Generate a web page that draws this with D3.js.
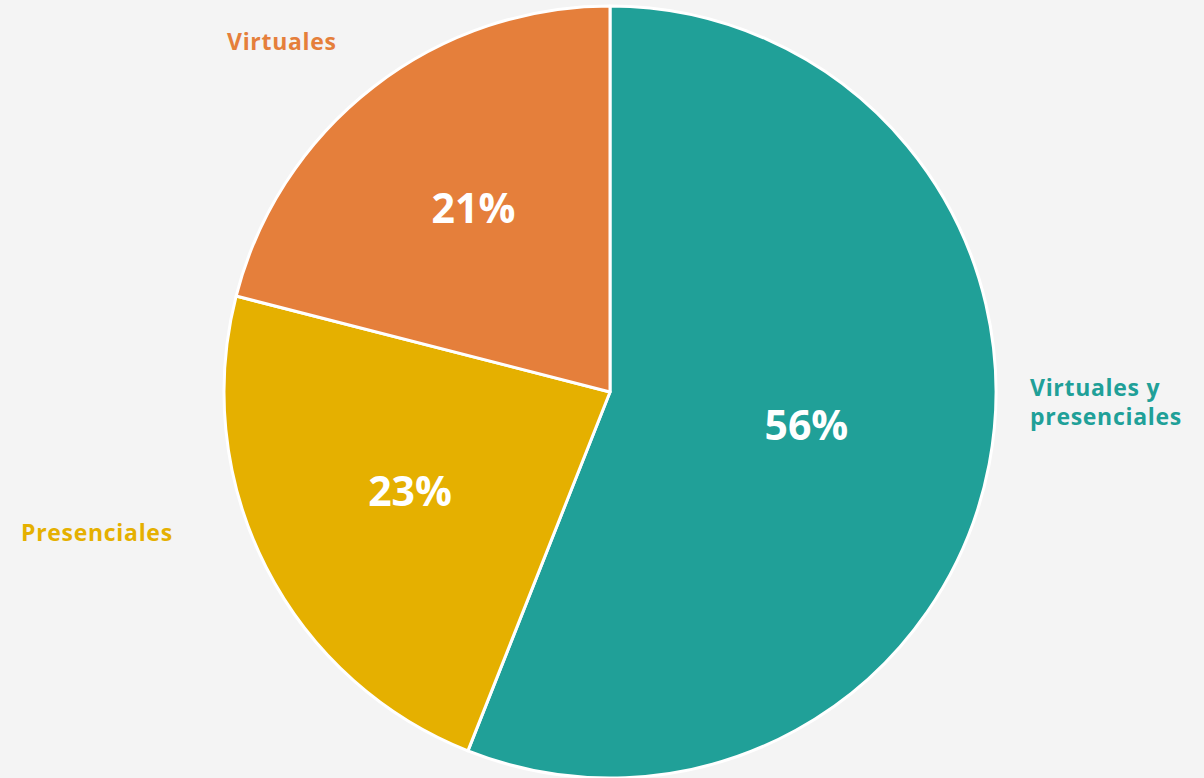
<!DOCTYPE html>
<html>
<head>
<meta charset="utf-8">
<script src="https://cdn.jsdelivr.net/npm/d3@7"></script>
<style>
  html, body { margin: 0; padding: 0; background: #f4f4f4; }
  svg { display: block; }
</style>
</head>
<body>
<div class="container"></div>
<script>
const categories = ['Virtuales y presenciales', 'Presenciales', 'Virtuales'];
const values = [56, 23, 21];
const colors = ['#20a098', '#e5b000', '#e57f3b'];

const width = 1204;
const height = 778;
const cx = 610;
const cy = 392;
const radius = 386;

const svg = d3.select('.container')
    .append('svg')
    .attr('width', width)
    .attr('height', height);

svg.append('rect')
    .attr('width', width)
    .attr('height', height)
    .attr('fill', '#f4f4f4');

const pie = d3.pie().sort(null).value(d => d.value);
const arcs = pie(categories.map((c, i) => ({ name: c, value: values[i], color: colors[i] })));

const arc = d3.arc().innerRadius(0).outerRadius(radius);

const g = svg.append('g').attr('transform', `translate(${cx},${cy})`);

g.selectAll('path')
    .data(arcs)
    .enter()
    .append('path')
    .attr('d', arc)
    .attr('fill', d => d.data.color)
    .attr('stroke', '#fff')
    .attr('stroke-width', 3)
    .attr('stroke-linejoin', 'round');

// percentage labels inside slices
g.selectAll('text.pct')
    .data(arcs)
    .enter()
    .append('text')
    .attr('class', 'pct')
    .attr('transform', d => {
        const r = d.data.value > 50 ? radius * 0.51 : radius * 0.59;
        const c = d3.arc().innerRadius(r).outerRadius(r).centroid(d);
        return `translate(${c[0] + 3},${c[1]})`;
    })
    .attr('text-anchor', 'middle')
    .attr('dy', '0.26em')
    .attr('fill', '#fff')
    .style('font-family', '"Open Sans", sans-serif')
    .style('font-weight', 700)
    .style('font-size', '41px')
    .text(d => d.data.value + '%');

// category labels outside the pie (one text per line)
const outer = [
    { i: 0, x: 1030, y: 396, lines: ['Virtuales y', 'presenciales'] },
    { i: 1, x: 21, y: 541, lines: ['Presenciales'] },
    { i: 2, x: 227, y: 50, lines: ['Virtuales'] }
];

outer.forEach(o => {
    o.lines.forEach((l, k) => {
        svg.append('text')
            .attr('x', o.x)
            .attr('y', o.y + k * 29)
            .attr('fill', colors[o.i])
            .style('font-family', '"Open Sans", sans-serif')
            .style('font-weight', 700)
            .style('font-size', '23px')
            .style('letter-spacing', '0.7px')
            .text(l);
    });
});
</script>
</body>
</html>
